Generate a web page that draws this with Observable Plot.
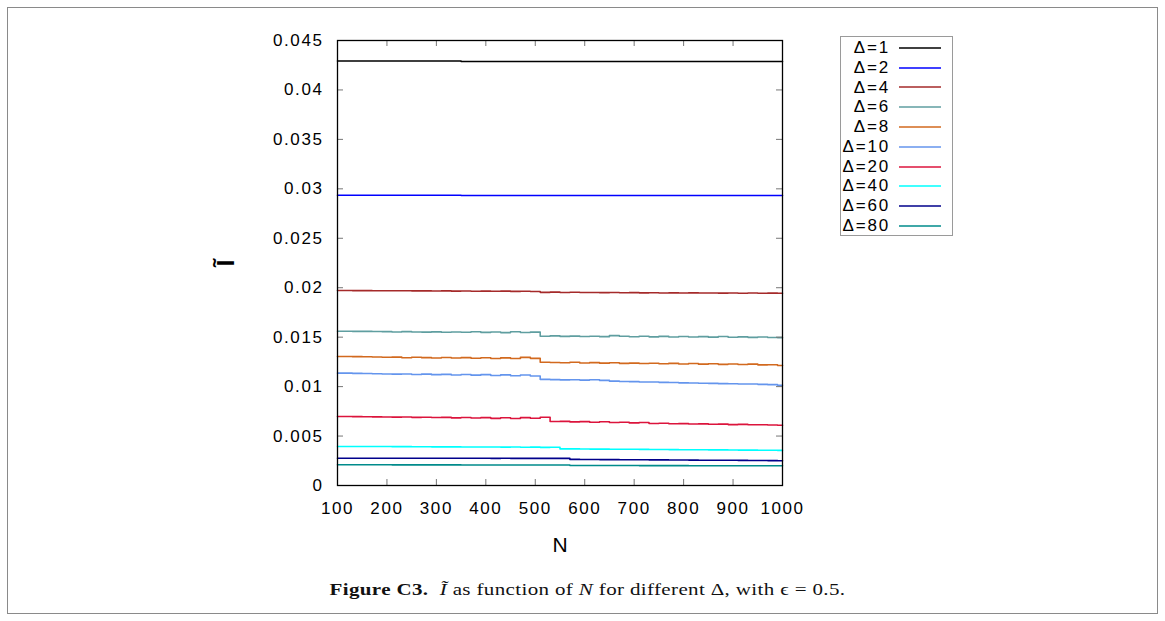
<!DOCTYPE html>
<html><head><meta charset="utf-8">
<script src="https://cdn.jsdelivr.net/npm/d3@7"></script>
<script src="https://cdn.jsdelivr.net/npm/@observablehq/plot@0.6"></script>
<style>
body{margin:0;background:#fff;}
#fig{position:absolute;left:7px;top:7px;width:1151px;height:607px;border:1px solid #8a8a8a;box-sizing:border-box;background:#fff;}
#chart{position:absolute;left:0;top:0;}
#legend{position:absolute;left:832px;top:28px;width:113px;height:200px;border:1px solid #9a9a9a;box-sizing:border-box;background:#fff;font-family:"Liberation Sans",Arial,sans-serif;font-size:17px;letter-spacing:1.8px;color:#000;padding-top:1px;}
.row{display:flex;align-items:center;height:19.8px;}
.row span{display:inline-block;width:49px;text-align:right;}
.row svg{display:block;margin-left:8px;}
#caption{position:absolute;left:5px;top:571px;width:100%;text-align:center;font-family:"Liberation Serif","Times New Roman",serif;font-size:17.5px;letter-spacing:0.3px;line-height:20px;color:#111;transform:scaleX(1.2);transform-origin:center;}
</style>
</head><body>
<div id="fig">
  <div id="chart"></div>
  <div id="legend"></div>
  <div id="caption"><b>Figure C3.</b>&nbsp; <i>Ĩ</i> as function of <i>N</i> for different Δ, with ϵ = 0.5.</div>
</div>
<script>
const N = [100,120,140,160,180,200,220,240,260,280,300,320,340,360,380,400,420,440,460,480,500,520,540,560,580,600,620,640,660,680,700,720,740,760,780,800,820,840,860,880,900,920,940,960,980,1000];

const labels = ["Δ=1","Δ=2","Δ=4","Δ=6","Δ=8","Δ=10","Δ=20","Δ=40","Δ=60","Δ=80"];
const colors = ["#000000","#0000ff","#a52a2a","#5f9ea0","#d2691e","#6495ed","#dc143c","#00ffff","#00008b","#008b8b"];

const d1 = [0.04293,0.04293,0.04293,0.04293,0.04293,0.04293,0.04293,0.04293,0.04293,0.04293,0.04293,0.04293,0.04293,0.04288,0.04288,0.04288,0.04288,0.04288,0.04288,0.04288,0.04288,0.04288,0.04288,0.04288,0.04288,0.04288,0.04288,0.04288,0.04288,0.04288,0.04288,0.04288,0.04288,0.04288,0.04288,0.04288,0.04288,0.04288,0.04288,0.04288,0.04288,0.04288,0.04288,0.04288,0.04288,0.04288];
const d2 = [0.02935,0.02935,0.02935,0.02935,0.02935,0.02935,0.02935,0.02935,0.02935,0.02935,0.02935,0.02935,0.02935,0.02932,0.02932,0.02932,0.02932,0.02932,0.02932,0.02932,0.02932,0.02932,0.02932,0.02932,0.02932,0.02932,0.02932,0.02932,0.02932,0.02932,0.02932,0.02932,0.02932,0.02932,0.02932,0.02932,0.02932,0.02932,0.02932,0.02932,0.02932,0.02932,0.02932,0.02932,0.02932,0.02932];
const d4 = [0.01972,0.01972,0.01971,0.01971,0.01970,0.01970,0.01969,0.01970,0.01968,0.01968,0.01967,0.01968,0.01966,0.01967,0.01965,0.01966,0.01964,0.01966,0.01963,0.01965,0.01962,0.01953,0.01955,0.01952,0.01954,0.01951,0.01952,0.01950,0.01951,0.01949,0.01950,0.01948,0.01949,0.01947,0.01948,0.01946,0.01948,0.01946,0.01947,0.01945,0.01946,0.01944,0.01946,0.01944,0.01945,0.01944];
const d6 = [0.01560,0.01560,0.01559,0.01559,0.01557,0.01556,0.01552,0.01556,0.01553,0.01551,0.01554,0.01549,0.01553,0.01550,0.01555,0.01548,0.01553,0.01546,0.01555,0.01547,0.01551,0.01510,0.01513,0.01508,0.01511,0.01507,0.01510,0.01505,0.01516,0.01509,0.01504,0.01509,0.01503,0.01508,0.01502,0.01507,0.01501,0.01505,0.01500,0.01506,0.01499,0.01503,0.01498,0.01502,0.01497,0.01495];
const d8 = [0.01304,0.01304,0.01303,0.01302,0.01300,0.01297,0.01298,0.01292,0.01297,0.01293,0.01290,0.01295,0.01289,0.01293,0.01287,0.01292,0.01285,0.01291,0.01284,0.01296,0.01286,0.01247,0.01244,0.01241,0.01246,0.01239,0.01243,0.01237,0.01241,0.01235,0.01238,0.01233,0.01236,0.01231,0.01235,0.01229,0.01233,0.01227,0.01231,0.01225,0.01229,0.01223,0.01227,0.01220,0.01221,0.01214];
const d10 = [0.01136,0.01136,0.01134,0.01132,0.01130,0.01128,0.01126,0.01128,0.01123,0.01126,0.01121,0.01124,0.01118,0.01123,0.01116,0.01121,0.01113,0.01119,0.01110,0.01117,0.01108,0.01073,0.01071,0.01068,0.01070,0.01066,0.01069,0.01063,0.01055,0.01052,0.01050,0.01047,0.01046,0.01043,0.01041,0.01038,0.01037,0.01034,0.01033,0.01030,0.01029,0.01027,0.01026,0.01023,0.01020,0.01014];
const d20 = [0.00697,0.00697,0.00696,0.00695,0.00694,0.00693,0.00691,0.00692,0.00689,0.00690,0.00687,0.00689,0.00684,0.00688,0.00682,0.00686,0.00679,0.00685,0.00678,0.00686,0.00680,0.00690,0.00647,0.00648,0.00643,0.00646,0.00640,0.00644,0.00637,0.00640,0.00633,0.00637,0.00627,0.00630,0.00624,0.00626,0.00622,0.00623,0.00619,0.00621,0.00616,0.00618,0.00614,0.00615,0.00612,0.00610];
const d40 = [0.00395,0.00395,0.00395,0.00394,0.00394,0.00394,0.00393,0.00393,0.00392,0.00392,0.00391,0.00391,0.00391,0.00390,0.00390,0.00389,0.00389,0.00388,0.00389,0.00387,0.00388,0.00386,0.00387,0.00370,0.00370,0.00369,0.00368,0.00368,0.00367,0.00366,0.00366,0.00365,0.00364,0.00364,0.00363,0.00362,0.00362,0.00361,0.00360,0.00360,0.00359,0.00358,0.00358,0.00357,0.00356,0.00355];
const d60 = [0.00276,0.00276,0.00276,0.00276,0.00276,0.00276,0.00276,0.00276,0.00275,0.00276,0.00275,0.00275,0.00275,0.00275,0.00275,0.00275,0.00274,0.00275,0.00274,0.00274,0.00274,0.00274,0.00274,0.00274,0.00264,0.00263,0.00263,0.00262,0.00262,0.00261,0.00261,0.00260,0.00259,0.00259,0.00258,0.00258,0.00257,0.00256,0.00256,0.00255,0.00255,0.00254,0.00253,0.00253,0.00252,0.00251];
const d80 = [0.00210,0.00210,0.00210,0.00210,0.00210,0.00210,0.00209,0.00209,0.00209,0.00209,0.00209,0.00209,0.00209,0.00208,0.00208,0.00208,0.00208,0.00208,0.00208,0.00208,0.00207,0.00207,0.00207,0.00207,0.00203,0.00203,0.00203,0.00202,0.00202,0.00202,0.00202,0.00201,0.00201,0.00201,0.00201,0.00201,0.00200,0.00200,0.00200,0.00200,0.00200,0.00199,0.00199,0.00199,0.00199,0.00199];

const xTicks = [100,200,300,400,500,600,700,800,900,1000];
const xTickLabels = ["100","200","300","400","500","600","700","800","900","1000"];
const yTicks = [0,0.005,0.01,0.015,0.02,0.025,0.03,0.035,0.04,0.045];
const yTickLabels = ["0","0.005","0.01","0.015","0.02","0.025","0.03","0.035","0.04","0.045"];

const series = [d1,d2,d4,d6,d8,d10,d20,d40,d60,d80];
const rows = [];
series.forEach((s, i) => s.forEach((v, j) => rows.push({N: N[j], v, delta: labels[i]})));

const W = 1149, H = 560, mL = 329, mR = 375, mT = 32, mB = 83;
const fw = W - mL - mR, fh = H - mT - mB;
const tick = 6;

const chart = Plot.plot({
  width: W, height: H,
  marginLeft: mL, marginRight: mR, marginTop: mT, marginBottom: mB,
  style: {fontFamily: "'Liberation Sans', Arial, sans-serif", fontSize: "17px", letterSpacing: "1.6px", color: "#000", background: "#fff"},
  x: {domain: [100, 1000]},
  y: {domain: [0, 0.045]},
  color: {domain: labels, range: colors},
  marks: [
    Plot.lineY(rows, {x: "N", y: "v", z: "delta", stroke: "delta", curve: "step", strokeWidth: 1.6}),
    Plot.ruleY(yTicks, {stroke: "#777", insetRight: fw - tick}),
    Plot.ruleY(yTicks, {stroke: "#777", insetLeft: fw - tick}),
    Plot.ruleX(xTicks, {stroke: "#777", insetBottom: fh - tick}),
    Plot.ruleX(xTicks, {stroke: "#777", insetTop: fh - tick}),
    Plot.axisY(yTicks, {tickSize: 0, tickPadding: 14, tickFormat: (d, i) => yTickLabels[i], label: "Ĩ", labelAnchor: "center", labelOffset: 121, labelArrow: "none"}),
    Plot.axisX(xTicks, {tickSize: 0, tickPadding: 16, tickFormat: (d, i) => xTickLabels[i], label: "N", labelAnchor: "center", labelOffset: 66, labelArrow: "none"}),
    Plot.frame({stroke: "#000", strokeWidth: 1.3})
  ]
});
document.getElementById("chart").appendChild(chart);

d3.select(chart).selectAll('[aria-label="y-axis label"] text').style("font-size", "24px").style("font-weight", "bold").style("letter-spacing", "0px");
d3.select(chart).selectAll('[aria-label="x-axis label"] text').style("font-size", "21px").style("letter-spacing", "0px");

const legend = d3.select("#legend");
labels.forEach((l, i) => {
  const r = legend.append("div").attr("class", "row");
  r.append("span").text(l);
  r.append("svg").attr("width", 44).attr("height", 4)
    .append("line").attr("x1", 1).attr("x2", 43).attr("y1", 2).attr("y2", 2)
    .attr("stroke", colors[i]).attr("stroke-width", 1.6);
});
</script>
</body></html>
